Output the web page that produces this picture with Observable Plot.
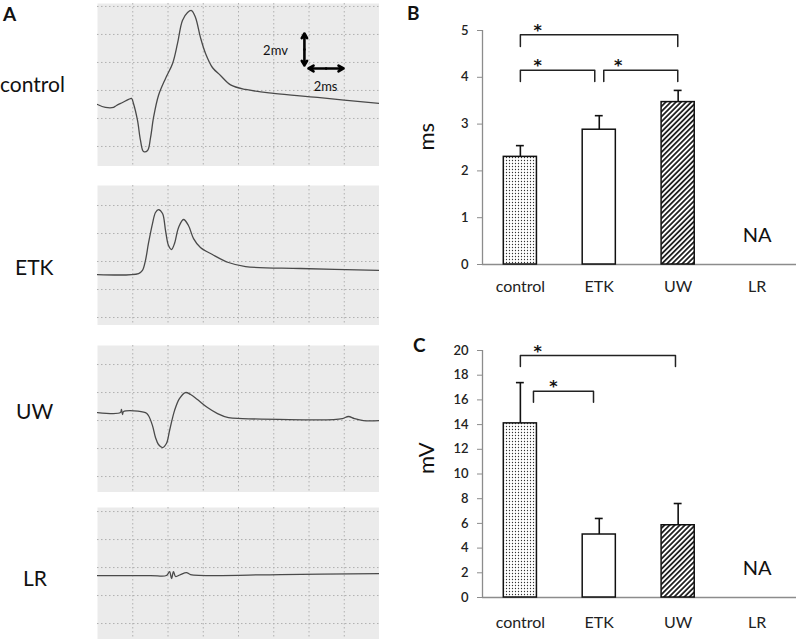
<!DOCTYPE html>
<html>
<head>
<meta charset="utf-8">
<script src="https://cdn.jsdelivr.net/npm/d3@7"></script>
<script src="https://cdn.jsdelivr.net/npm/@observablehq/plot@0.6"></script>
<style>
  body { margin: 0; background: #fff; font-family: Lato, "Open Sans", sans-serif; }
  #fig { position: relative; width: 800px; height: 639px; overflow: hidden; }
  .lbl { position: absolute; transform: translateY(-50%); line-height: 1; color: #111; white-space: nowrap; }
  .pnl { position: absolute; }
</style>
</head>
<body>
<svg width="0" height="0" style="position:absolute">
  <defs>
    <pattern id="dots" width="3" height="3" patternUnits="userSpaceOnUse">
      <rect width="3" height="3" fill="#fff"></rect>
      <circle cx="1.5" cy="1.5" r="0.65" fill="#333"></circle>
    </pattern>
    <pattern id="hatch" width="3.6" height="3.6" patternUnits="userSpaceOnUse" patternTransform="rotate(45)">
      <rect width="3.6" height="3.6" fill="#fff"></rect>
      <line x1="0.9" y1="0" x2="0.9" y2="3.6" stroke="#222" stroke-width="1.8"></line>
    </pattern>
  </defs>
</svg>
<div id="fig"></div>
<script>
// --- panel A: traces, [time ms, potential mV]
const controlTrace = [
  [0, 3.0], [0.45, 2.79], [0.91, 2.79], [1.08, 2.93], [1.42, 3.14], [1.76, 3.36], [1.93, 3.43],
  [2.04, 3.07], [2.27, 1.86], [2.44, 0.43], [2.61, -0.36], [2.84, -0.29], [3.01, 0.64],
  [3.18, 2.07], [3.46, 3.64], [3.86, 4.86], [4.26, 5.93], [4.54, 7.36], [4.82, 9.0],
  [5.11, 9.57], [5.33, 9.71], [5.56, 9.21], [5.84, 7.79], [6.13, 6.64], [6.52, 5.64],
  [6.98, 5.07], [7.55, 4.4], [8.4, 4.07], [9.99, 3.79], [12.48, 3.5], [16, 3.07]
];
const etkTrace = [
  [0, 3.07], [2.33, 3.14], [2.55, 3.36], [2.72, 4.07], [2.89, 5.29], [3.12, 6.71], [3.29, 7.5],
  [3.46, 7.71], [3.69, 7.43], [3.86, 6.21], [4.03, 5.14], [4.2, 4.86], [4.37, 5.29],
  [4.6, 6.43], [4.88, 7.0], [5.16, 6.57], [5.45, 5.64], [5.84, 5.0], [6.52, 4.5],
  [7.43, 3.93], [8.4, 3.64], [11.52, 3.5], [16, 3.36]
];
const uwTrace = [
  [0, 4.57], [1.3, 4.57], [1.36, 4.79], [1.42, 4.43], [1.48, 4.64], [2.72, 4.57], [2.89, 4.36],
  [3.12, 3.64], [3.29, 2.79], [3.46, 2.29], [3.69, 2.07], [3.91, 2.36], [4.09, 3.29],
  [4.37, 4.71], [4.65, 5.57], [4.99, 6.0], [5.28, 5.86], [5.67, 5.5], [6.24, 4.93],
  [6.81, 4.5], [7.43, 4.21], [8.23, 4.14], [13.39, 4.07], [13.9, 4.14], [14.24, 4.29],
  [14.58, 4.14], [15.09, 4.0], [16, 4.0]
];
const lrTrace = [
  [0, 3.43], [3.01, 3.43], [3.91, 3.43], [4.09, 3.71], [4.2, 3.21], [4.31, 3.71], [4.43, 3.36],
  [4.71, 3.5], [5.05, 3.64], [5.28, 3.5], [10.38, 3.5], [16, 3.57]
];
const msTicks = [2, 4, 6, 8, 10, 12, 14];
const mvTicks = [0, 2, 4, 6, 8, 10];
const scaleArrows = [
  {x1: 11.74, y1: 6.93, x2: 11.74, y2: 8.07},
  {x1: 11.74, y1: 6.93, x2: 11.74, y2: 5.79},
  {x1: 12.97, y1: 5.57, x2: 11.97, y2: 5.57},
  {x1: 12.97, y1: 5.57, x2: 13.96, y2: 5.57}
];
const scaleLabels = [
  {t: 10.1, v: 6.86, text: "2mv"},
  {t: 12.94, v: 4.29, text: "2ms"}
];

// --- panels B and C: group means with upward SEM bars
const categories = ["control", "ETK", "UW", "LR"];
const latency = [2.3, 2.88, 3.47, null];
const latencySem = [0.24, 0.3, 0.25, null];
const amplitude = [14.1, 5.1, 5.85, null];
const amplitudeSem = [3.3, 1.3, 1.76, null];
const fills = ["url(#dots)", "#fff", "url(#hatch)"];
const latencyBrackets = [
  {from: 0, to: 1.995, y: 4.91, drop: 0.25, star: 0.22},
  {from: 0, to: 0.943, y: 4.15, drop: 0.24, star: 0.22},
  {from: 1.057, to: 1.995, y: 4.15, drop: 0.24, star: 1.24}
];
const amplitudeBrackets = [
  {from: 0, to: 1.966, y: 19.6, drop: 0.9, star: 0.22},
  {from: 0.166, to: 0.927, y: 16.7, drop: 0.9, star: 0.42}
];

const fig = document.getElementById("fig");

function place(node, left, top) {
  node.classList.add("pnl");
  node.style.left = left + "px";
  node.style.top = top + "px";
  fig.appendChild(node);
}

function label(text, left, cy, size, weight = 400) {
  const d = document.createElement("div");
  d.className = "lbl";
  d.textContent = text;
  d.style.left = left + "px";
  d.style.top = cy + "px";
  d.style.fontSize = size + "px";
  d.style.fontWeight = weight;
  fig.appendChild(d);
}

function tracePlot(trace, height, yDomain, extra = []) {
  const inside = mvTicks.filter((t) => t > yDomain[0] && t < yDomain[1]);
  return Plot.plot({
    width: 282,
    height,
    margin: 0,
    x: {domain: [0, 16], axis: null},
    y: {domain: yDomain, axis: null},
    style: {background: "none", fontFamily: "Lato, sans-serif"},
    marks: [
      Plot.frame({fill: "#ebebeb", stroke: "none"}),
      Plot.gridX({ticks: msTicks, stroke: "#b0b0b0", strokeOpacity: 1, strokeDasharray: "1.5,2.5"}),
      Plot.gridY({ticks: inside, stroke: "#b0b0b0", strokeOpacity: 1, strokeDasharray: "1.5,2.5"}),
      Plot.line(trace, {x: (d) => d[0], y: (d) => d[1], curve: "catmull-rom", stroke: "#4a4a4a", strokeWidth: 1.3}),
      ...extra
    ]
  });
}

place(tracePlot(controlTrace, 163, [-1.43, 10.21], [
  Plot.arrow(scaleArrows, {x1: "x1", y1: "y1", x2: "x2", y2: "y2", stroke: "#000", strokeWidth: 2.6, headLength: 7}),
  Plot.text(scaleLabels, {x: "t", y: "v", text: "text", fontSize: 13, fill: "#111"})
]), 97, 3);
place(tracePlot(etkTrace, 140, [-0.57, 9.43]), 97, 185);
place(tracePlot(uwTrace, 147, [-1.14, 9.36]), 97, 345);
place(tracePlot(lrTrace, 132, [-1.14, 8.29]), 97, 507);

label("A", 3, 13, 19, 700);
label("control", 0, 83, 21);
label("ETK", 15, 266, 21);
label("UW", 16, 410, 21);
label("LR", 23, 577, 21);

function barPlot({values, sem, brackets, yMax, yTicks, yLabel, height, marginBottom, labelDy, xPad}) {
  const rows = categories.map((c, i) => ({i, c, v: values[i], e: sem[i], fill: fills[i]})).filter((d) => d.v != null);
  const bracketPaths = brackets.flatMap((b, k) => [
    {k, x: b.from, y: b.y - b.drop},
    {k, x: b.from, y: b.y},
    {k, x: b.to, y: b.y},
    {k, x: b.to, y: b.y - b.drop}
  ]);
  return Plot.plot({
    width: 400,
    height,
    marginLeft: 82,
    marginRight: 4,
    marginTop: 30,
    marginBottom,
    x: {domain: [-0.48, 3.5], axis: null},
    y: {domain: [0, yMax], axis: null},
    style: {background: "none", fontFamily: "Lato, sans-serif", color: "#222", overflow: "visible"},
    marks: [
      Plot.ruleY([0], {stroke: "#8c8c8c", strokeWidth: 1.3}),
      Plot.ruleX([-0.48], {y1: 0, y2: yMax, stroke: "#8c8c8c", strokeWidth: 1.3}),
      Plot.axisY({ticks: yTicks, tickFormat: (d) => String(d), tickSize: 5, tickPadding: 9, fontSize: 13, fontWeight: 600, stroke: "#8c8c8c"}),
      Plot.axisX({ticks: [0, 1, 2, 3], tickFormat: (i) => categories[i], tickSize: 0, tickPadding: xPad, fontSize: 16}),
      Plot.text([yLabel], {frameAnchor: "left", dx: -56, dy: labelDy, rotate: -90, fontSize: 22, fill: "#111"}),
      Plot.ruleX(rows, {x: "i", y1: "v", y2: (d) => d.v + d.e, stroke: "#111", strokeWidth: 1.6}),
      Plot.ruleY(rows, {y: (d) => d.v + d.e, x1: (d) => d.i - 0.05, x2: (d) => d.i + 0.05, stroke: "#111", strokeWidth: 1.6}),
      Plot.rectY(rows, {x1: (d) => d.i - 0.21, x2: (d) => d.i + 0.21, y: "v", fill: "fill", stroke: "#111", strokeWidth: 1.5}),
      Plot.line(bracketPaths, {x: "x", y: "y", z: "k", stroke: "#222", strokeWidth: 1.5}),
      Plot.text(brackets, {x: "star", y: "y", text: () => "*", dy: -4, fontSize: 16, fontWeight: 700, fontFamily: "DejaVu Sans", fill: "#111"}),
      Plot.text(["NA"], {x: [3], frameAnchor: "bottom", dy: -23, fontSize: 20, fill: "#111"})
    ]
  });
}

place(barPlot({
  values: latency, sem: latencySem, brackets: latencyBrackets,
  yMax: 5, yTicks: [0, 1, 2, 3, 4, 5], yLabel: "ms", height: 304, marginBottom: 40, labelDy: 3, xPad: 16
}), 400, 0);
place(barPlot({
  values: amplitude, sem: amplitudeSem, brackets: amplitudeBrackets,
  yMax: 20, yTicks: [0, 2, 4, 6, 8, 10, 12, 14, 16, 18, 20], yLabel: "mV", height: 319, marginBottom: 42, labelDy: 0, xPad: 19
}), 400, 320);

label("B", 407, 12, 19, 700);
label("C", 413, 344, 19, 700);
</script>
</body>
</html>
